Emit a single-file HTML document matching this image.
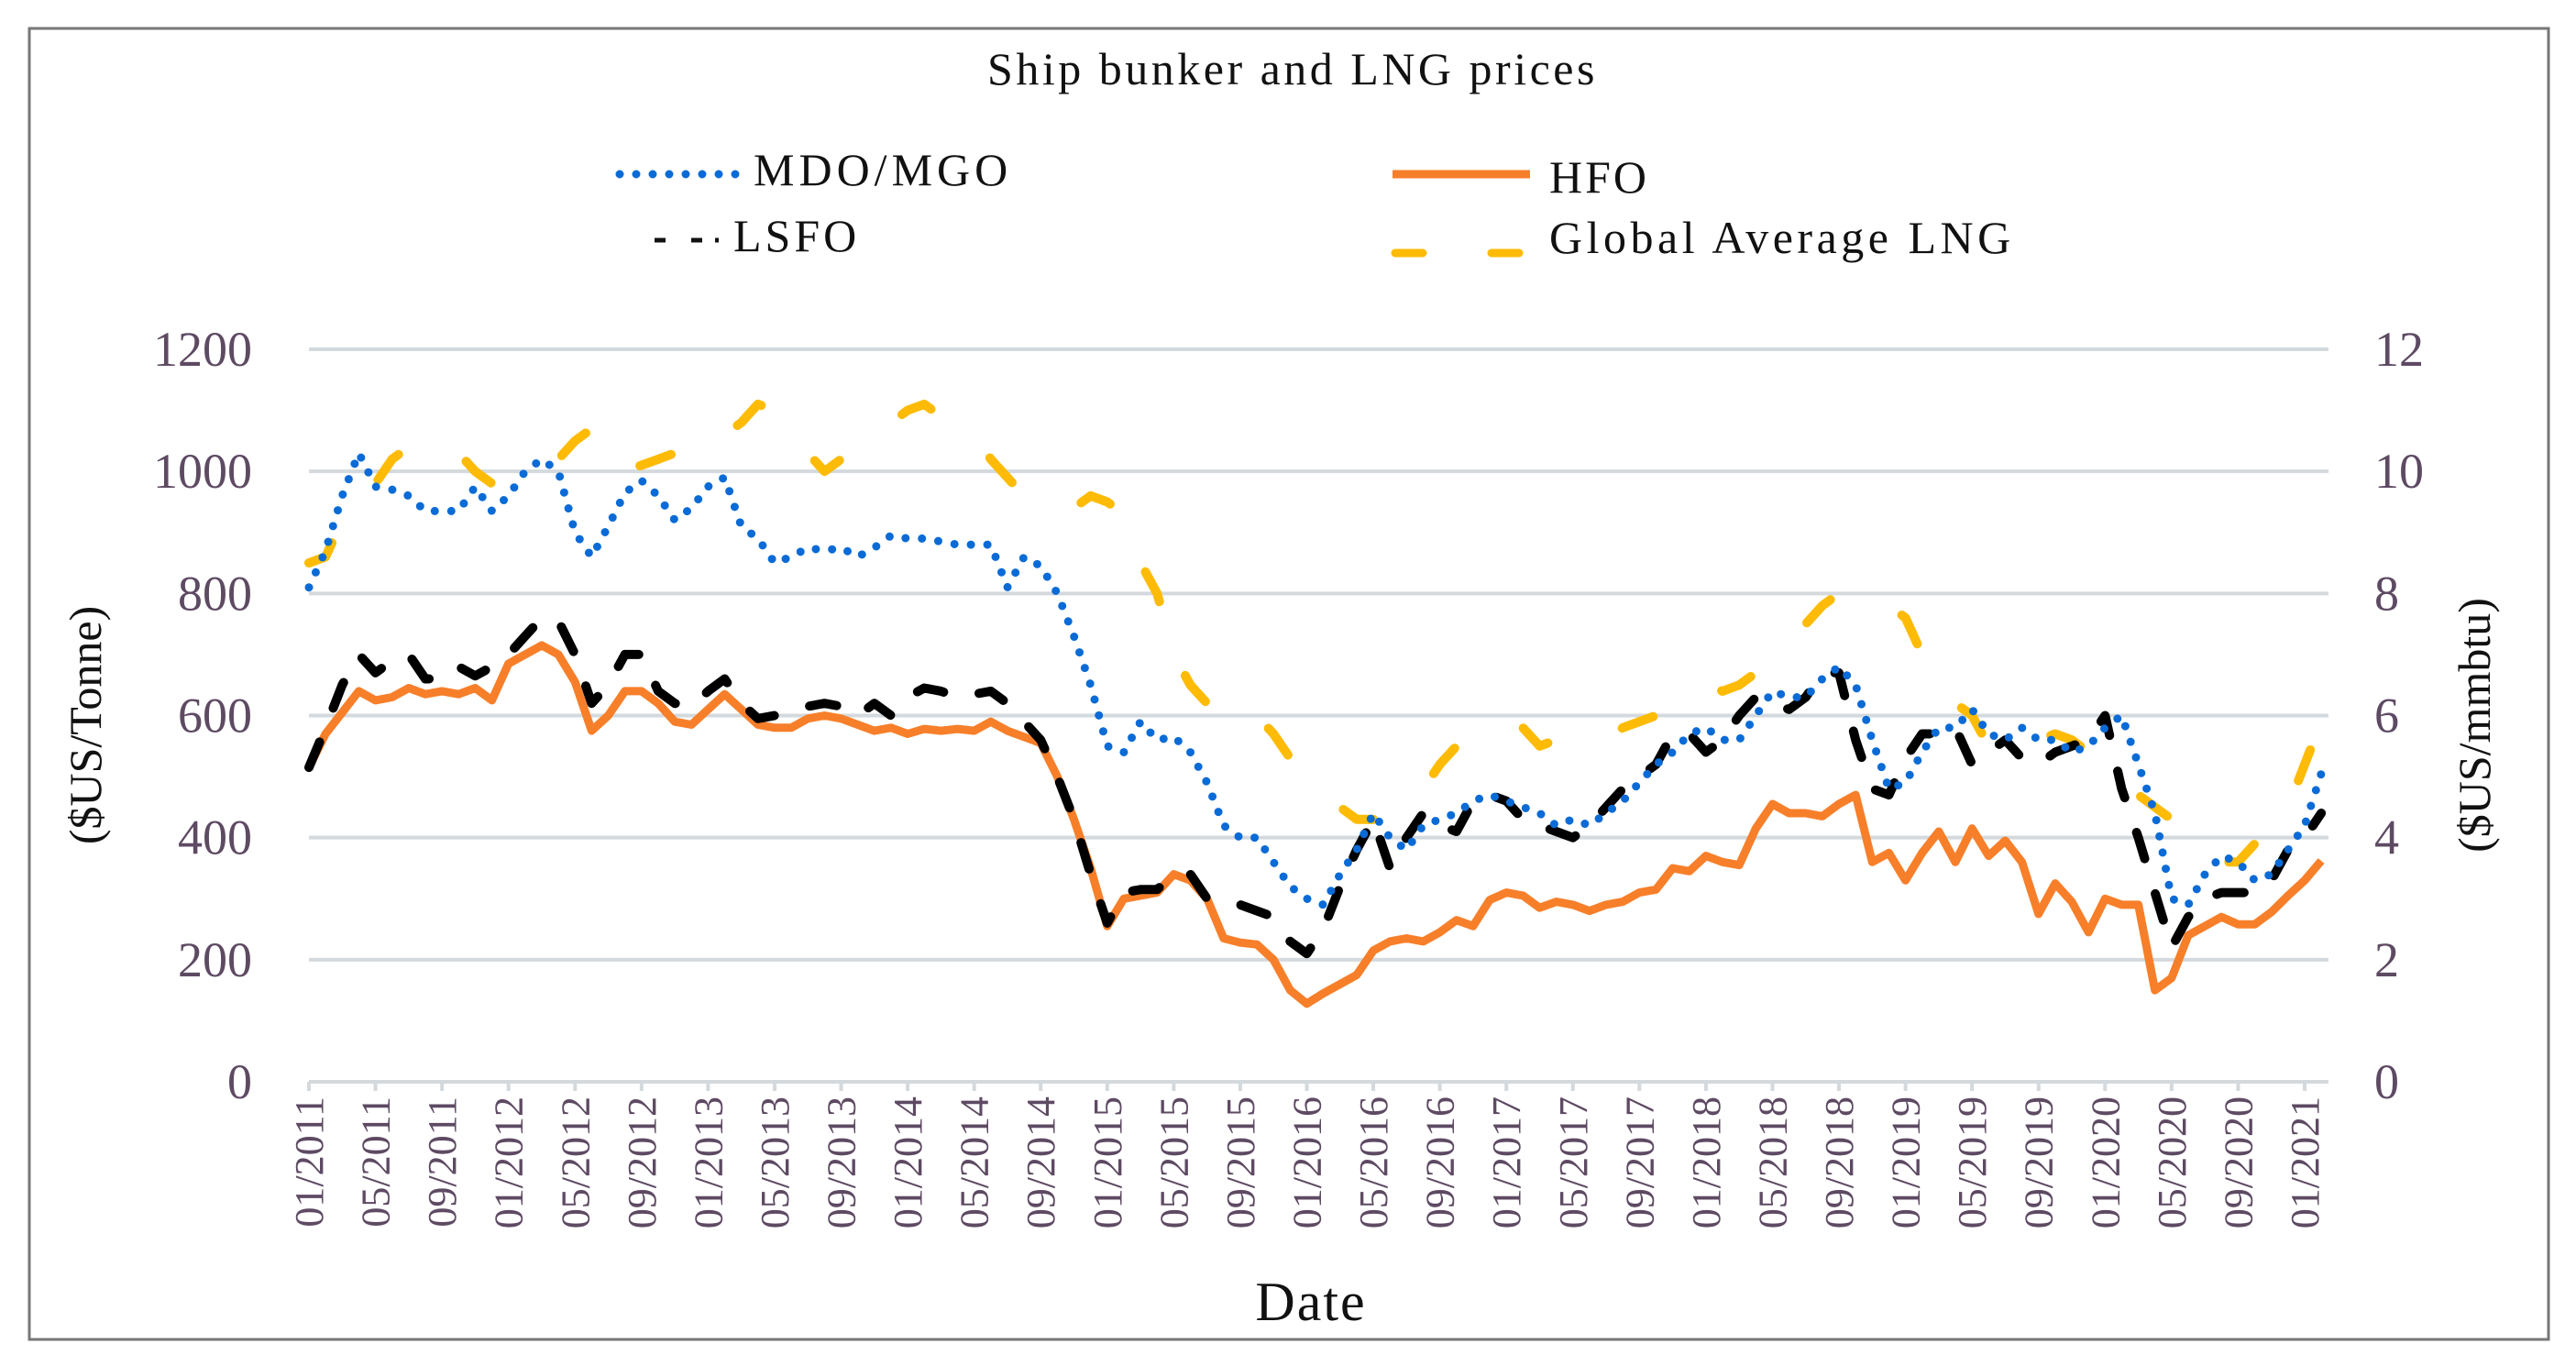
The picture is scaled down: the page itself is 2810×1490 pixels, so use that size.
<!DOCTYPE html>
<html><head><meta charset="utf-8"><style>
html,body{margin:0;padding:0;background:#fff;}
svg{display:block;font-family:"Liberation Serif",serif;}
</style></head><body>
<svg id="chart" width="2810" height="1490" viewBox="0 0 2810 1490" xmlns="http://www.w3.org/2000/svg">
<rect x="0" y="0" width="2810" height="1490" fill="#fff"/>
<rect x="32" y="31" width="2748" height="1430" fill="none" stroke="#777" stroke-width="3"/>
<text x="1410" y="92" font-size="50" letter-spacing="3.5" text-anchor="middle" fill="#111">Ship bunker and LNG prices</text>
<g id="legend">
<line x1="676" y1="190" x2="816" y2="190" stroke="#0a6bd6" stroke-width="9" stroke-linecap="round" stroke-dasharray="0 18"/>
<text x="822" y="202" font-size="50" letter-spacing="5" fill="#111">MDO/MGO</text>
<line x1="1519" y1="190" x2="1669" y2="190" stroke="#f77f2a" stroke-width="9"/>
<text x="1690" y="210" font-size="50" letter-spacing="3" fill="#111">HFO</text>
<line x1="714" y1="262" x2="790" y2="262" stroke="#111" stroke-width="5" stroke-dasharray="12 28 12 14 4 20"/>
<text x="800" y="274" font-size="50" letter-spacing="4" fill="#111">LSFO</text>
<line x1="1522" y1="276" x2="1666" y2="276" stroke="#fdbb05" stroke-width="9" stroke-linecap="round" stroke-dasharray="30 75"/>
<text x="1690" y="276" font-size="50" letter-spacing="4.5" fill="#111">Global Average LNG</text>
</g>
<g id="grid"></g><g id="axes"></g><g id="series"></g>
<text transform="translate(110,791) rotate(-90)" font-size="50" text-anchor="middle" fill="#111">($US/Tonne)</text>
<text transform="translate(2716,791) rotate(-90)" font-size="50" text-anchor="middle" fill="#111">($US/mmbtu)</text>
<text x="1430" y="1440" font-size="60" letter-spacing="2" text-anchor="middle" fill="#111">Date</text>
</svg>
<script>
const hfo=[515,570,605,640,625,630,645,635,640,635,645,625,
685,700,715,700,655,575,600,640,640,620,590,585,
610,635,610,585,580,580,595,600,595,585,575,580,
570,578,575,578,575,590,575,565,555,500,430,350,
255,300,305,310,340,330,300,235,228,225,200,150,
128,145,160,175,215,230,235,230,245,265,255,298,
310,305,285,295,290,280,290,295,310,315,350,345,
370,360,355,415,455,440,440,435,455,470,360,375,
330,375,410,360,415,370,395,360,275,325,295,245,
300,290,290,150,170,240,255,270,258,258,278,305,
330,362];
const mdo=[810,870,960,1030,975,970,960,935,935,935,975,935,
960,1000,1020,1000,900,860,910,965,985,960,920,940,
975,990,910,890,850,860,875,870,875,860,875,895,
890,890,885,880,880,880,810,860,845,800,730,650,
550,540,590,560,565,540,490,420,400,400,360,320,
300,290,340,380,440,400,380,420,430,440,460,470,
460,450,440,420,430,420,440,460,490,520,540,570,
580,560,560,600,640,630,630,660,680,650,560,480,
490,540,580,580,610,570,560,580,560,560,540,550,
580,600,520,440,300,290,340,370,360,330,340,380,
420,505];
const lsfo=[515,580,650,700,670,690,700,660,660,680,665,680,
700,730,760,755,700,620,650,700,700,640,620,615,
640,660,620,595,600,605,615,620,615,600,620,600,
630,645,640,630,635,640,620,590,560,500,430,340,
260,310,315,315,340,340,300,290,290,280,270,230,
210,250,320,380,430,350,400,440,420,410,460,470,
460,430,420,410,400,420,450,480,500,520,570,570,
540,560,600,630,620,610,630,670,670,560,480,470,
530,570,570,580,520,540,560,530,520,540,550,560,
600,480,400,310,220,270,300,310,310,310,330,380,
400,440];
const lng=[8.5,8.6,9.2,9.5,9.8,10.2,10.4,10.4,10.5,10.3,10.0,9.8,
10.0,10.1,10.2,10.2,10.5,10.7,10.5,10.0,10.1,10.2,10.3,10.5,
10.4,10.6,10.8,11.1,11.0,10.7,10.3,10.0,10.2,10.3,10.5,10.8,
11.0,11.1,10.9,10.7,10.6,10.2,9.9,9.6,9.6,9.5,9.4,9.6,
9.5,9.3,8.5,8.0,7.0,6.5,6.2,6.3,6.3,6.0,5.7,5.3,
4.9,4.7,4.5,4.3,4.3,4.4,4.5,4.8,5.2,5.5,5.7,5.9,
5.9,5.8,5.5,5.6,5.6,5.6,5.6,5.8,5.9,6.0,6.1,6.3,
6.5,6.4,6.5,6.7,6.9,7.1,7.5,7.8,8.0,7.9,7.8,7.8,
7.6,7.0,6.5,6.2,6.0,5.5,5.5,5.6,5.6,5.7,5.6,5.4,
5.2,5.0,4.7,4.5,4.3,4.0,3.8,3.6,3.6,3.9,4.2,4.5,
5.2,5.9];
const leftTicks=[0,200,400,600,800,1000,1200];
const rightTicks=[0,2,4,6,8,10,12];
const xLabels=["01/2011","05/2011","09/2011","01/2012","05/2012","09/2012","01/2013","05/2013","09/2013","01/2014","05/2014","09/2014","01/2015","05/2015","09/2015","01/2016","05/2016","09/2016","01/2017","05/2017","09/2017","01/2018","05/2018","09/2018","01/2019","05/2019","09/2019","01/2020","05/2020","09/2020","01/2021"];

const NS="http://www.w3.org/2000/svg";
const X0=337,XM=(2514-337)/120,Y0=1180,YT=381;
const xs=m=>X0+m*XM;
const yL=v=>Y0-(v/1200)*(Y0-YT);
const yR=v=>Y0-(v/12)*(Y0-YT);
function mk(tag,attrs,parent){const e=document.createElementNS(NS,tag);for(const k in attrs)e.setAttribute(k,attrs[k]);parent.appendChild(e);return e;}
const grid=document.getElementById('grid'),axes=document.getElementById('axes'),ser=document.getElementById('series');
leftTicks.forEach(v=>{
  const l=mk('line',{x1:337,x2:2540,y1:yL(v),y2:yL(v),stroke:'#d3d9dd','stroke-width':4},grid);
  
  
  const t=mk('text',{x:275,y:yL(v)+18,'font-size':54,'text-anchor':'end',fill:'#5e4a63'},axes);
  t.textContent=v;
  
  
});
rightTicks.forEach(v=>{
  const t=mk('text',{x:2590,y:yR(v)+18,'font-size':54,'text-anchor':'start',fill:'#5e4a63'},axes);
  t.textContent=v;
  
  
});
xLabels.forEach((s,i)=>{
  const x=xs(i*4);
  const tk=mk('line',{x1:x,x2:x,y1:Y0,y2:Y0+10,stroke:'#d3d9dd','stroke-width':4},axes);
  
  
  const t=mk('text',{transform:`translate(${x+15},1196) rotate(-90)`,'font-size':44,'text-anchor':'end',fill:'#5e4a63'},axes);
  t.textContent=s;
  
  
});
function path(arr,yf){return arr.map((v,i)=>(i?'L':'M')+xs(i).toFixed(1)+','+yf(v).toFixed(1)).join('');}
const pL=mk('path',{d:path(lng,yR),fill:'none',stroke:'#fdbb05','stroke-width':10,'stroke-linecap':'round','stroke-linejoin':'round','stroke-dasharray':'36 86'},ser);


const pH=mk('path',{d:path(hfo,yL),fill:'none',stroke:'#f77f2a','stroke-width':9,'stroke-linejoin':'round'},ser);


const pS=mk('path',{d:path(lsfo,yL),fill:'none',stroke:'#000','stroke-width':10,'stroke-linecap':'round','stroke-linejoin':'round','stroke-dasharray':'30 40'},ser);


const pM=mk('path',{d:path(mdo,yL),fill:'none',stroke:'#0a6bd6','stroke-width':9,'stroke-linecap':'round','stroke-linejoin':'round','stroke-dasharray':'0 18'},ser);


</script>
</body></html>
